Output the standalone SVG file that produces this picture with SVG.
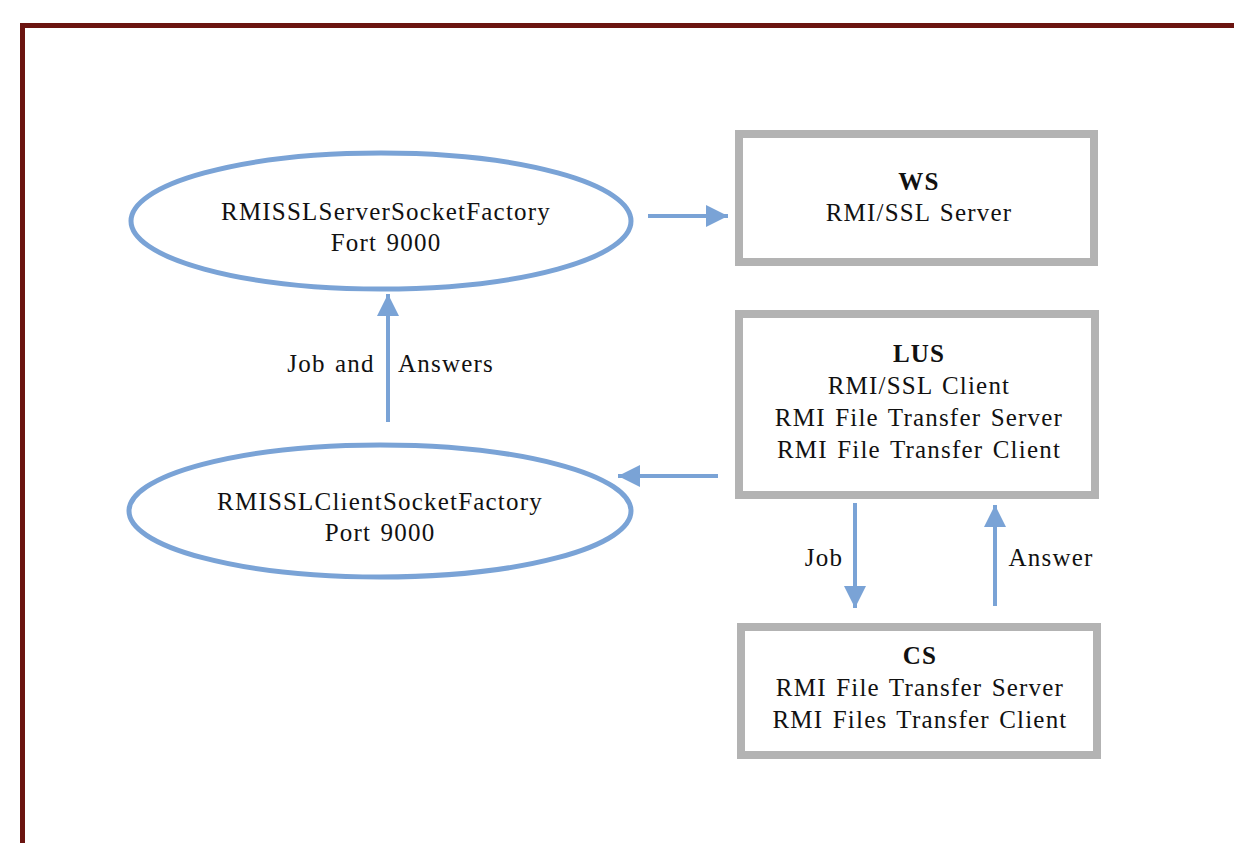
<svg xmlns="http://www.w3.org/2000/svg" width="1234" height="843" viewBox="0 0 1234 843">
<defs>
<style>
.t{font-family:"Liberation Serif","Times New Roman",serif;font-size:25px;letter-spacing:1.2px;word-spacing:2px;fill:#111;text-anchor:middle}
.b{font-weight:bold}
.box{fill:#fff;stroke:#b3b3b3;stroke-width:8}
.ell{fill:#fff;stroke:#7aa3d6;stroke-width:5}
.con{stroke:#7aa3d6;stroke-width:4;fill:none}
</style>
<marker id="ah" viewBox="0 0 10 10" refX="10" refY="5" markerWidth="5.5" markerHeight="6" markerUnits="strokeWidth" orient="auto">
<path d="M0,0 L10,5 L0,10 z" fill="#7aa3d6"/>
</marker>
</defs>
<rect width="1234" height="843" fill="#fff"/>
<g id="frame">
<path d="M22.5,843 V25.5 H1234" fill="none" stroke="#6b1410" stroke-width="5"/>
</g>
<g id="server-factory">
<ellipse class="ell" cx="381" cy="221" rx="250" ry="68"/>
<text class="t" x="386" y="220">RMISSLServerSocketFactory</text>
<text class="t" x="386" y="251">Fort 9000</text>
</g>
<g id="client-factory">
<ellipse class="ell" cx="380" cy="511" rx="251" ry="66"/>
<text class="t" x="380" y="510">RMISSLClientSocketFactory</text>
<text class="t" x="380" y="541">Port 9000</text>
</g>
<g id="ws">
<rect class="box" x="739" y="134" width="355" height="128"/>
<text class="t b" x="919" y="190">WS</text>
<text class="t" x="919" y="221">RMI/SSL Server</text>
</g>
<g id="lus">
<rect class="box" x="739" y="314" width="356" height="181"/>
<text class="t b" x="919" y="362">LUS</text>
<text class="t" x="919" y="394">RMI/SSL Client</text>
<text class="t" x="919" y="426">RMI File Transfer Server</text>
<text class="t" x="919" y="458">RMI File Transfer Client</text>
</g>
<g id="cs">
<rect class="box" x="741" y="627" width="356" height="128"/>
<text class="t b" x="920" y="664">CS</text>
<text class="t" x="920" y="696">RMI File Transfer Server</text>
<text class="t" x="920" y="728">RMI Files Transfer Client</text>
</g>
<g id="connectors">
<line class="con" x1="648" y1="216" x2="728" y2="216" marker-end="url(#ah)"/>
<line class="con" x1="388" y1="422" x2="388" y2="294" marker-end="url(#ah)"/>
<line class="con" x1="718" y1="476" x2="618" y2="476" marker-end="url(#ah)"/>
<line class="con" x1="855" y1="503" x2="855" y2="608" marker-end="url(#ah)"/>
<line class="con" x1="995" y1="606" x2="995" y2="505" marker-end="url(#ah)"/>
<text class="t" x="331" y="372">Job and</text>
<text class="t" x="446" y="372">Answers</text>
<text class="t" x="824" y="566">Job</text>
<text class="t" x="1051" y="566">Answer</text>
</g>
</svg>
